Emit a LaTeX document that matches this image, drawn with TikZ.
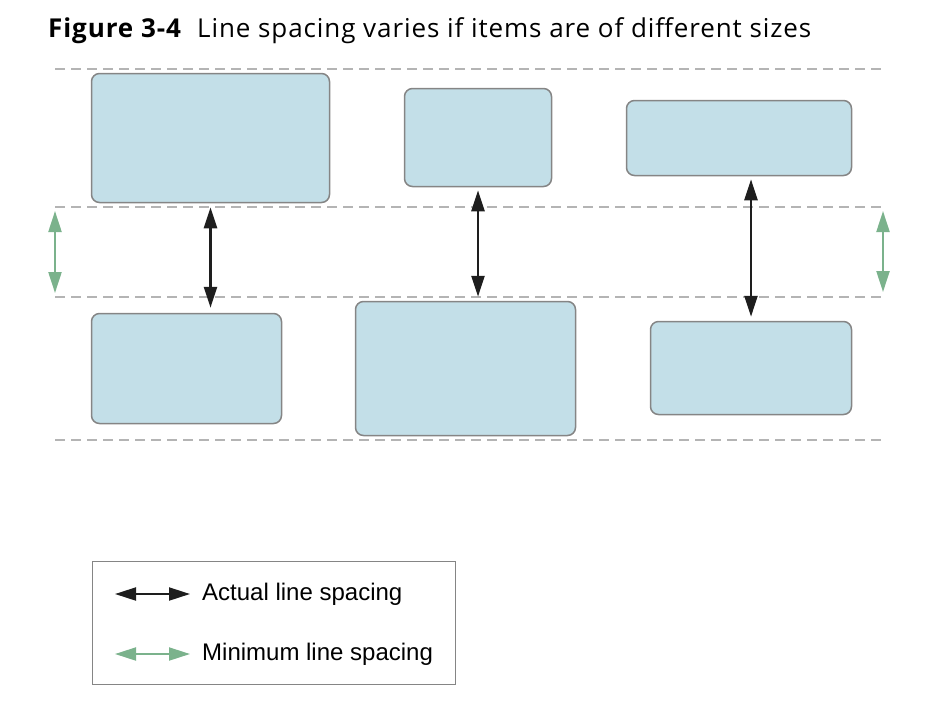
\documentclass[tikz,border=0pt]{standalone}
\usepackage{fontspec}
\setmainfont{Liberation Sans}
\newfontfamily\titlefont[LetterSpace=3.5]{Open Sans}
\usetikzlibrary{arrows.meta,positioning}
\definecolor{boxblue}{HTML}{C3DFE8}
\definecolor{boxline}{HTML}{858585}
\definecolor{guidegray}{HTML}{B4B4B4}
\definecolor{mingreen}{HTML}{7BB28C}
\definecolor{actblack}{HTML}{1E1E1E}
\tikzset{
  item/.style={draw=boxline, line width=1.5pt, fill=boxblue, rounded corners=8pt, inner sep=0pt},
  guide/.style={guidegray, line width=2.6pt, dash pattern=on 10pt off 6pt},
  actual/.style={actblack, line width=2.5pt, {Triangle[length=21pt,width=13pt]}-{Triangle[length=21pt,width=13pt]}},
  minimal/.style={mingreen, line width=2.2pt, {Triangle[length=21pt,width=13pt]}-{Triangle[length=21pt,width=13pt]}}
}
\begin{document}
\begin{tikzpicture}[x=1pt, y=-1pt, every node/.style={font=\fontsize{24}{28}\selectfont}]
  \useasboundingbox (0,0) rectangle (950,724);
  \node[anchor=base west, inner sep=0pt, font=\titlefont\fontsize{26}{28}\selectfont] (title) at (48,37) {\textbf{Figure 3-4}\ \ Line spacing varies if items are of different sizes};
  % guide lines
  \coordinate (g1) at (55,69);  \coordinate (g1e) at (885,69);
  \coordinate (g2) at (55,207); \coordinate (g2e) at (885,207);
  \coordinate (g3) at (55,297); \coordinate (g3e) at (885,297);
  \coordinate (g4) at (55,440); \coordinate (g4e) at (885,440);
  \foreach \g in {g1,g2,g3,g4} \draw[guide] (\g) -- (\g e);
  % items, top row
  \node[item, minimum width=238pt, minimum height=129pt] (t1) at (210.5,138) {};
  \node[item, minimum width=147pt, minimum height=98pt] (t2) at (478,137.5) {};
  \node[item, minimum width=225pt, minimum height=75pt] (t3) at (739,138) {};
  % items, bottom row
  \node[item, minimum width=190pt, minimum height=110pt] (b1) at (186.5,368.5) {};
  \node[item, minimum width=220pt, minimum height=134pt] (b2) at (465.5,368.5) {};
  \node[item, minimum width=201pt, minimum height=93pt] (b3) at (751,368) {};
  % actual spacing
  \draw[actual, shorten <=4pt, shorten >=5pt] (t1.south) -- (t1.south |- b1.north);
  \draw[actual, shorten <=3pt, shorten >=4pt] (t2.south) -- (t2.south |- b2.north);
  \draw[actual, shorten <=3pt, shorten >=4pt] (t3.south -| b3.north) -- (b3.north);
  % minimum spacing
  \draw[minimal, shorten <=4pt, shorten >=4pt] (g2) -- (g3);
  \draw[minimal, shorten <=4pt, shorten >=5pt] ([xshift=-2pt]g2e) -- ([xshift=-2pt]g3e);
  % legend
  \node[draw=boxline, line width=1.5pt, minimum width=363pt, minimum height=123pt, inner sep=0pt] (key) at (274,623) {};
  \coordinate (a1) at (115,594); \coordinate (a2) at (190,594);
  \coordinate (m1) at (115,654); \coordinate (m2) at (190,654);
  \draw[actual, line width=2pt] (a1) -- (a2);
  \draw[minimal, line width=2pt] (m1) -- (m2);
  \node[anchor=west, inner sep=0pt] (act) at (202,594) {Actual line spacing};
  \node[anchor=west, inner sep=0pt] (min) at (202,654) {Minimum line spacing};
\end{tikzpicture}
\end{document}
